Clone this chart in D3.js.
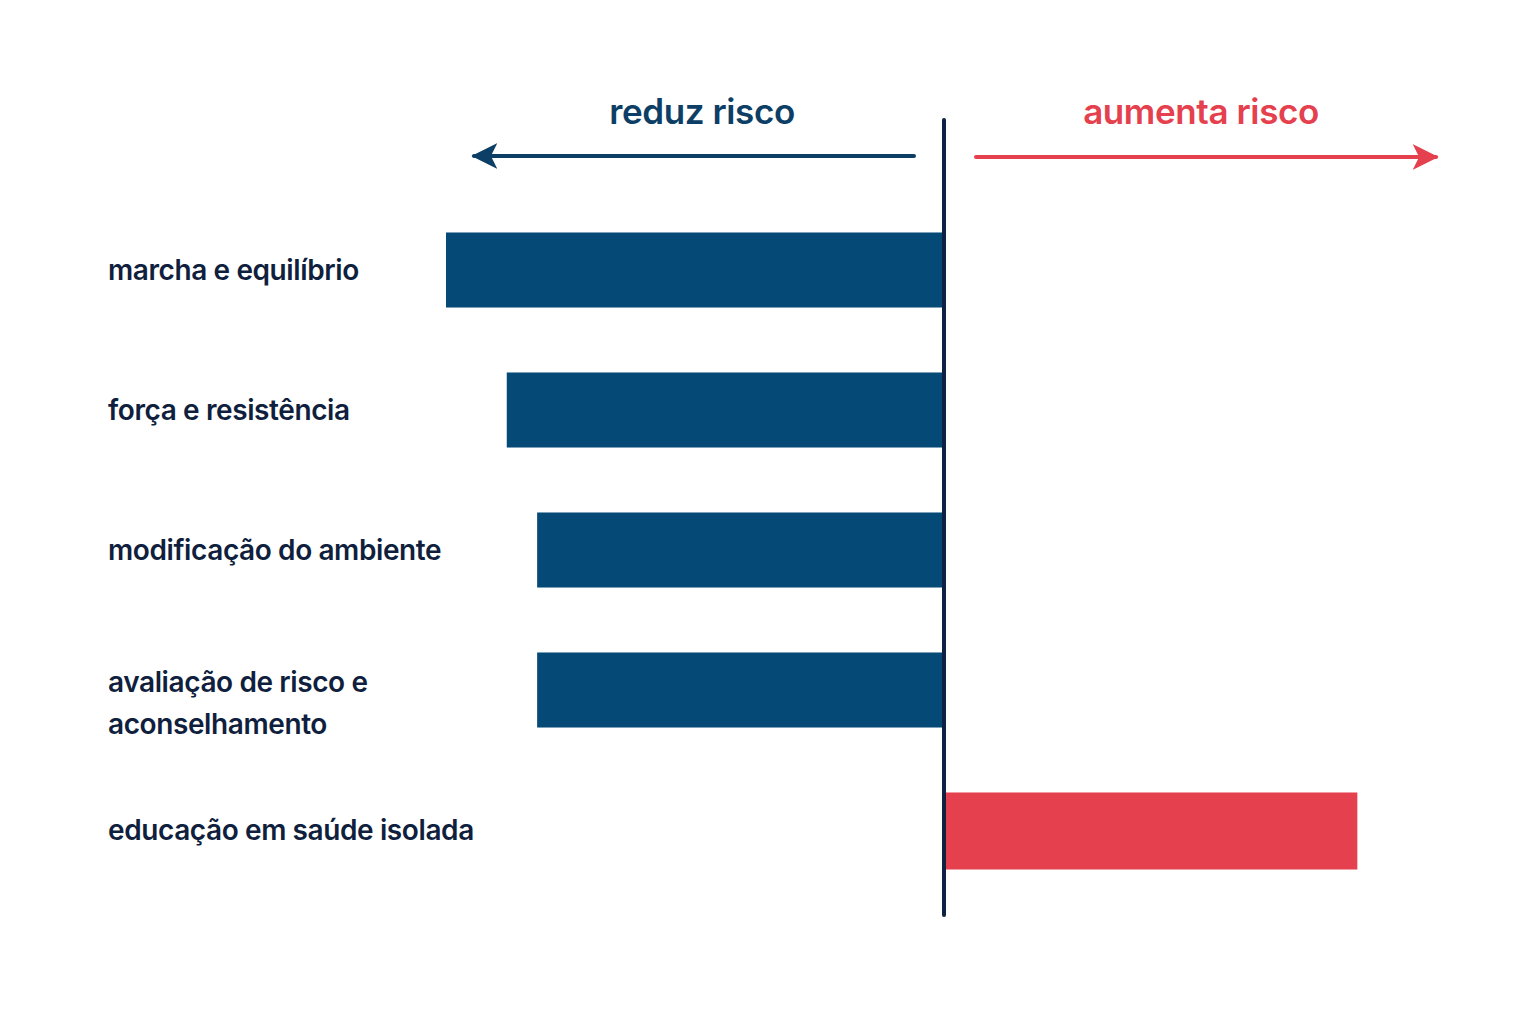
<!DOCTYPE html>
<html>
<head>
<meta charset="utf-8">
<script src="https://cdn.jsdelivr.net/npm/d3@7"></script>
<style>
  body { margin: 0; background: #ffffff; }
  text { font-family: Inter, "Noto Sans", sans-serif; }
</style>
</head>
<body>
<svg id="chart" width="1536" height="1024"></svg>
<script>
var W = 1536, H = 1024;
var ZERO_X = 944;
var HALF = 498;
var BLUE = '#054a77';
var RED = '#e5404d';
var INK = '#0f1f3d';

// relative effect on fall risk (negative = reduces)
var categories = ['marcha e equilíbrio', 'força e resistência', 'modificação do ambiente',
    'avaliação de risco e aconselhamento', 'educação em saúde isolada'];
var labelLines = [['marcha e equilíbrio'], ['força e resistência'], ['modificação do ambiente'],
    ['avaliação de risco e', 'aconselhamento'], ['educação em saúde isolada']];
var effects = [-1.0, -0.878, -0.817, -0.817, 0.83];
var directionLabels = ['reduz risco', 'aumenta risco'];

var svg = d3.select('#chart');

var x = d3.scaleLinear().domain([-1, 1]).range([ZERO_X - HALF, ZERO_X + HALF]);
var y = d3.scaleBand().domain(categories).range([200, 900]).paddingInner(0.464).paddingOuter(0.232);

// bars
svg.selectAll('.bar')
    .data(categories)
    .enter()
    .append('rect')
    .attr('class', 'bar')
    .attr('x', function (d, i) { return effects[i] < 0 ? x(effects[i]) : x(0) + 2; })
    .attr('y', function (d) { return y(d); })
    .attr('width', function (d, i) { return Math.abs(x(effects[i]) - x(0)) - (effects[i] < 0 ? 0 : 2); })
    .attr('height', function (d, i) { return y.bandwidth() + (effects[i] > 0 ? 2 : 0); })
    .style('fill', function (d, i) { return effects[i] < 0 ? BLUE : RED; });

// category labels
var labels = svg.selectAll('.catLabel')
    .data(categories)
    .enter()
    .append('text')
    .attr('class', 'catLabel')
    .attr('x', 108)
    .style('font-size', '28px')
    .style('font-weight', 600)
    .style('letter-spacing', '-0.4px')
    .style('fill', INK);
labels.each(function (d, i) {
    var lines = labelLines[i];
    var cy = y(d) + y.bandwidth() / 2;
    var lh = 42;
    var top = lines.length > 1 ? cy + 2 : cy + 10;
    d3.select(this).selectAll('tspan')
        .data(lines)
        .enter()
        .append('tspan')
        .attr('x', 108)
        .attr('y', function (l, j) { return top + j * lh; })
        .text(function (l) { return l; });
});

// zero line
svg.append('line')
    .attr('x1', x(0)).attr('x2', x(0))
    .attr('y1', 120).attr('y2', 915)
    .style('stroke', '#0d2240')
    .style('stroke-width', 4)
    .style('stroke-linecap', 'round');

// direction arrows
var defs = svg.append('defs');
[['arrowBlue', '#0d3f66'], ['arrowRed', RED]].forEach(function (a) {
    defs.append('marker')
        .attr('id', a[0])
        .attr('viewBox', '0 0 10 10')
        .attr('refX', 9).attr('refY', 5)
        .attr('markerWidth', 6.5).attr('markerHeight', 7)
        .attr('markerUnits', 'strokeWidth')
        .attr('orient', 'auto')
        .append('path')
        .attr('d', 'M0,0 L10,5 L0,10 L2.5,5 Z')
        .style('fill', a[1]);
});

svg.append('line')
    .attr('x1', 914).attr('x2', 474)
    .attr('y1', 156).attr('y2', 156)
    .style('stroke', '#0d3f66')
    .style('stroke-width', 4)
    .style('stroke-linecap', 'round')
    .attr('marker-end', 'url(#arrowBlue)');
svg.append('line')
    .attr('x1', 976).attr('x2', 1436)
    .attr('y1', 157).attr('y2', 157)
    .style('stroke', RED)
    .style('stroke-width', 4)
    .style('stroke-linecap', 'round')
    .attr('marker-end', 'url(#arrowRed)');

svg.append('text')
    .attr('x', 702).attr('y', 124)
    .attr('text-anchor', 'middle')
    .style('font-size', '35px')
    .style('font-weight', 600)
    .style('letter-spacing', '-0.4px')
    .style('fill', '#0d3f66')
    .text(directionLabels[0]);
svg.append('text')
    .attr('x', 1201).attr('y', 124)
    .attr('text-anchor', 'middle')
    .style('font-size', '35px')
    .style('font-weight', 600)
    .style('letter-spacing', '-0.4px')
    .style('fill', RED)
    .text(directionLabels[1]);
</script>
</body>
</html>
